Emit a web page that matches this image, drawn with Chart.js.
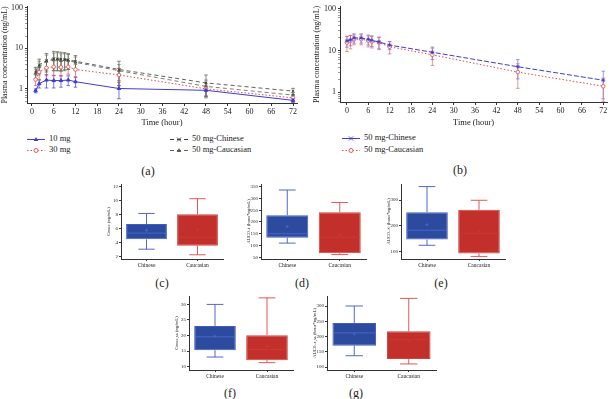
<!DOCTYPE html>
<html>
<head>
<meta charset="utf-8">
<script src="https://cdn.jsdelivr.net/npm/chart.js@4.4.0/dist/chart.umd.min.js"></script>
<style>
  body { margin: 0; background: #fff; width: 612px; height: 399px; position: relative; overflow: hidden; font-family: "Liberation Serif", serif; color: #222; }
  canvas { position: absolute; }
  .lab { position: absolute; font-size: 12px; transform: translate(-50%, -50%); }
  .leg { position: absolute; font-size: 8.5px; line-height: 10px; white-space: nowrap; transform: translateY(-50%); }
  .leg svg { vertical-align: middle; margin-right: 4px; }
</style>
</head>
<body>
<canvas id="chartA" width="302" height="130" style="left:0;top:0"></canvas>
<canvas id="chartB" width="300" height="130" style="left:312px;top:0"></canvas>
<canvas id="boxC"></canvas>
<canvas id="boxD"></canvas>
<canvas id="boxE"></canvas>
<canvas id="boxF"></canvas>
<canvas id="boxG"></canvas>
<div id="legends"></div>
<div class="lab" style="left:148px;top:171px">(a)</div>
<div class="lab" style="left:460px;top:170px">(b)</div>
<div class="lab" style="left:162px;top:283px">(c)</div>
<div class="lab" style="left:302px;top:283px">(d)</div>
<div class="lab" style="left:441px;top:283px">(e)</div>
<div class="lab" style="left:230px;top:393px">(f)</div>
<div class="lab" style="left:356px;top:393px">(g)</div>
<script>
// ---- panel (a): single dose, mean ± SD
const timesA = [1, 2, 4, 6, 8, 10, 12, 24, 48, 72];
const timesA50 = [1, 2, 4, 6, 7, 8, 9, 10, 12, 24, 48, 72];
const mg10 = [0.9, 1.35, 1.65, 1.6, 1.6, 1.65, 1.5, 1.02, 0.92, 0.52];
const mg10Sd = [0.1, 0.3, 0.6, 0.55, 0.5, 0.45, 0.4, 0.45, 0.25, 0.06];
const mg30 = [1.7, 2.6, 3.3, 3.5, 3.4, 3.5, 3.0, 2.2, 1.0, 0.6];
const mg30Sd = [0.5, 0.9, 1.2, 1.4, 1.3, 1.2, 1.0, 1.0, 0.35, 0.12];
const mg50Cn = [2.6, 3.9, 5.0, 5.6, 5.5, 5.4, 5.3, 5.2, 4.8, 3.0, 1.4, 0.88];
const mg50CnSd = [0.8, 1.5, 2.4, 2.8, 2.7, 2.6, 2.5, 2.2, 1.8, 1.8, 0.8, 0.15];
const mg50Ca = [2.4, 3.5, 4.8, 5.2, 5.3, 5.0, 5.2, 5.0, 4.5, 2.8, 1.15, 0.7];
const mg50CaSd = [0.7, 1.3, 2.0, 2.4, 2.5, 2.3, 2.2, 2.0, 1.6, 1.2, 0.5, 0.12];

// ---- panel (b): multiple dose 50 mg
const timesB = [0, 1, 2, 4, 6, 7, 9, 12, 24, 48, 72];
const ssCn = [17, 18, 20, 20, 18.5, 17.5, 16, 13.5, 9.1, 4.1, 1.95];
const ssCnSd = [5, 5, 5, 5, 5, 5, 5, 3, 3, 2, 1.25];
const ssCa = [15.5, 17, 18.7, 18.7, 17.2, 16.5, 15.5, 12.3, 7.9, 3.05, 1.4];
const ssCaSd = [6, 6, 5, 5, 5, 5, 5, 4, 3.5, 1.8, 0.8];

const tickHours = [0, 6, 12, 18, 24, 30, 36, 42, 48, 54, 60, 66, 72];

// ---- box plots: [min, q1, median, q3, max, mean]
const groups = ['Chinese', 'Caucasian'];
const cmaxCn = [3.1, 4.5, 5.4, 6.7, 8.2, 5.8];
const cmaxCa = [2.3, 3.6, 4.8, 8.1, 10.3, 5.9];
const auctCn = [110, 133, 150, 229, 336, 181];
const auctCa = [61, 67, 135, 241, 283, 145];
const aucinfCn = [125, 147, 183, 253, 352, 205];
const aucinfCa = [82, 93, 170, 262, 299, 180];
const cmaxssCn = [13.1, 15.3, 19.6, 23.1, 30, 19.8];
const cmaxssCa = [11.3, 12.1, 15.5, 20.1, 32.1, 16.5];
const aucssCn = [137, 170, 212, 244.6, 300, 208];
const aucssCa = [110, 126, 190, 217, 325, 185];

const serif = 'Liberation Serif';
const pts = (xs, ys) => xs.map((x, i) => ({ x: x, y: ys[i] }));

// error bars drawn from each dataset's sd array
const errorBars = {
  id: 'errorBars',
  beforeDatasetsDraw(chart) {
    const { ctx, scales: { x, y } } = chart;
    chart.data.datasets.forEach(ds => {
      if (!ds.sd) return;
      ctx.save();
      ctx.strokeStyle = ds.errColor || ds.borderColor;
      ctx.lineWidth = 0.7;
      ds.data.forEach((p, j) => {
        const px = x.getPixelForValue(p.x);
        const top = y.getPixelForValue(p.y + ds.sd[j]);
        const bot = y.getPixelForValue(Math.max(p.y - ds.sd[j], y.min));
        ctx.beginPath();
        ctx.moveTo(px, top); ctx.lineTo(px, bot);
        ctx.moveTo(px - 1.8, top); ctx.lineTo(px + 1.8, top);
        if (p.y - ds.sd[j] > y.min) { ctx.moveTo(px - 1.8, bot); ctx.lineTo(px + 1.8, bot); }
        ctx.stroke();
      });
      ctx.restore();
    });
  }
};

function logTicks(min, max) {
  const out = [];
  for (let e = -1; e <= 2; e++) {
    for (let m = 1; m <= 9; m++) {
      const v = m * Math.pow(10, e);
      if (v >= min && v <= max) out.push({ value: v });
    }
  }
  return out;
}

function lineChart(id, datasets, o) {
  return new Chart(document.getElementById(id), {
    type: 'line',
    data: { datasets: datasets },
    options: {
      responsive: false,
      animation: false,
      layout: { padding: { top: o.padTop, right: o.padRight, left: 0, bottom: 0 } },
      plugins: { legend: { display: false }, tooltip: { enabled: false } },
      scales: {
        x: {
          type: 'linear', min: o.xmin, max: o.xmax,
          afterBuildTicks: s => { s.ticks = tickHours.map(v => ({ value: v })); },
          afterFit: s => { s.height = o.xh; },
          grid: { drawOnChartArea: false, tickLength: 3, color: '#333' },
          border: { color: '#333' },
          ticks: { font: { family: serif, size: 8 }, color: '#222', padding: 1, maxRotation: 0, autoSkip: false },
          title: { display: true, text: 'Time (hour)', font: { family: serif, size: 8.5 }, color: '#222', padding: { top: 1, bottom: 2 } }
        },
        y: {
          type: 'logarithmic', min: o.ymin, max: o.ymax,
          afterBuildTicks: s => { s.ticks = logTicks(s.min, s.max); },
          afterFit: s => { s.width = o.yw; },
          grid: { drawOnChartArea: false, tickLength: 2, color: c => ([1, 10, 100].includes(c.tick && c.tick.value) ? '#333' : '#999') },
          border: { color: '#333' },
          ticks: {
            font: { family: serif, size: 8 }, color: '#222', padding: 2, autoSkip: false,
            callback: v => ([1, 10, 100].includes(v) ? String(v) : '')
          },
          title: { display: true, text: 'Plasma concentration (ng/mL)', font: { family: serif, size: 8 }, color: '#222', padding: 0 }
        }
      }
    },
    plugins: [errorBars]
  });
}

const blue = '#3c3cd4', red = '#e04848', dark = '#3a3a3a', darkGreen = '#55634f';

const dsA = [
  { label: '10 mg', data: pts(timesA, mg10), sd: mg10Sd, borderColor: blue, backgroundColor: blue,
    borderWidth: 1, pointStyle: 'triangle', pointRadius: 2 },
  { label: '30 mg', data: pts(timesA, mg30), sd: mg30Sd, borderColor: red, backgroundColor: '#fff',
    borderWidth: 1, borderDash: [1.5, 2], pointStyle: 'circle', pointRadius: 1.8, pointBorderWidth: 0.8 },
  { label: '50 mg-Chinese', data: pts(timesA50, mg50Cn), sd: mg50CnSd, errColor: '#4b5a4b', borderColor: dark, backgroundColor: dark,
    borderWidth: 0.8, borderDash: [4, 3], pointStyle: 'crossRot', pointRadius: 1.8, pointBorderWidth: 0.8 },
  { label: '50 mg-Caucasian', data: pts(timesA50, mg50Ca), sd: mg50CaSd, errColor: '#6a7a62', borderColor: darkGreen, backgroundColor: darkGreen,
    borderWidth: 0.8, borderDash: [4, 3], pointStyle: 'triangle', pointRadius: 1.6 }
];
const dsB = [
  { label: '50 mg-Chinese', data: pts(timesB, ssCn), sd: ssCnSd, errColor: '#7070e0', borderColor: blue, backgroundColor: blue,
    borderWidth: 1, borderDash: [5, 2], pointStyle: 'star', pointRadius: 2, pointBorderWidth: 0.8 },
  { label: '50 mg-Caucasian', data: pts(timesB, ssCa), sd: ssCaSd, errColor: '#e06a6a', borderColor: red, backgroundColor: '#fff',
    borderWidth: 1, borderDash: [1.5, 2], pointStyle: 'circle', pointRadius: 1.8, pointBorderWidth: 0.8 }
];

lineChart('chartA', dsA, { xmin: -1.37, xmax: 73.1, ymin: 0.448, ymax: 105.5, yw: 27, xh: 27, padTop: 2, padRight: 4 });
lineChart('chartB', dsB, { xmin: -1.94, xmax: 73.1, ymin: 0.589, ymax: 111, yw: 28, xh: 28, padTop: 3, padRight: 1 });

// ---- HTML legends built from the datasets
function markerSvg(ds, solid) {
  const dash = (!solid && ds.borderDash) ? ` stroke-dasharray="${ds.borderDash.join(' ')}"` : '';
  let m = '';
  if (ds.pointStyle === 'triangle') m = `<polygon points="9,2.5 11.3,6.5 6.7,6.5" fill="${ds.borderColor}"/>`;
  else if (ds.pointStyle === 'circle') m = `<circle cx="9" cy="5" r="2" fill="#fff" stroke="${ds.borderColor}" stroke-width="0.9"/>`;
  else m = `<path d="M7,3L11,7M11,3L7,7" stroke="${ds.borderColor}" stroke-width="0.9"/>`;
  return `<svg width="18" height="10"><line x1="0" y1="5" x2="18" y2="5" stroke="${ds.borderColor}" stroke-width="1"${dash}/>${m}</svg>`;
}
const legendSpots = [
  [dsA[0], 27, 139, false], [dsA[1], 27, 150, false], [dsA[2], 170, 139, false], [dsA[3], 170, 150, false],
  [dsB[0], 342, 138, true], [dsB[1], 342, 150, false]
];
const legendBox = document.getElementById('legends');
legendSpots.forEach(([ds, x, y, solid]) => {
  const d = document.createElement('div');
  d.className = 'leg';
  d.style.left = x + 'px';
  d.style.top = y + 'px';
  d.innerHTML = markerSvg(ds, solid) + '<span></span>';
  d.querySelector('span').textContent = ds.label;
  legendBox.appendChild(d);
});

// ---- box plots: floating bars for the boxes, whiskers/median/mean through the same scales
const boxExtras = {
  id: 'boxExtras',
  beforeDatasetsDraw(chart) {
    const { ctx, scales: { y } } = chart;
    const ds = chart.data.datasets[0];
    const meta = chart.getDatasetMeta(0);
    ctx.save();
    ctx.lineWidth = 1;
    ds.stats.forEach((s, i) => {
      const bar = meta.data[i];
      const cw = bar.width * 0.2;
      ctx.strokeStyle = ds.whiskerColor[i];
      ctx.beginPath();
      ctx.moveTo(bar.x, y.getPixelForValue(s[4])); ctx.lineTo(bar.x, y.getPixelForValue(s[3]));
      ctx.moveTo(bar.x, y.getPixelForValue(s[0])); ctx.lineTo(bar.x, y.getPixelForValue(s[1]));
      ctx.moveTo(bar.x - cw, y.getPixelForValue(s[4])); ctx.lineTo(bar.x + cw, y.getPixelForValue(s[4]));
      ctx.moveTo(bar.x - cw, y.getPixelForValue(s[0])); ctx.lineTo(bar.x + cw, y.getPixelForValue(s[0]));
      ctx.stroke();
    });
    ctx.restore();
  },
  afterDatasetsDraw(chart) {
    const { ctx, scales: { y } } = chart;
    const ds = chart.data.datasets[0];
    const meta = chart.getDatasetMeta(0);
    ctx.save();
    ctx.lineWidth = 0.8;
    ds.stats.forEach((s, i) => {
      const bar = meta.data[i];
      const half = bar.width / 2;
      ctx.strokeStyle = ds.medianColor[i];
      ctx.beginPath();
      const my = y.getPixelForValue(s[2]);
      ctx.moveTo(bar.x - half + 1, my); ctx.lineTo(bar.x + half - 1, my);
      const ay = y.getPixelForValue(s[5]);
      ctx.moveTo(bar.x - 1.5, ay); ctx.lineTo(bar.x + 1.5, ay);
      ctx.moveTo(bar.x, ay - 1.5); ctx.lineTo(bar.x, ay + 1.5);
      ctx.stroke();
    });
    ctx.restore();
  }
};

function boxChart(id, cn, ca, o) {
  const el = document.getElementById(id);
  const padTop = 4, padRight = 3, xh = 10;
  el.width = Math.round(o.areaR - o.areaL + o.yw + padRight);
  el.height = Math.round(o.areaB - o.areaT + padTop + xh);
  el.style.left = (o.areaL - o.yw) + 'px';
  el.style.top = (o.areaT - padTop) + 'px';
  return new Chart(el, {
    type: 'bar',
    data: {
      labels: groups,
      datasets: [{
        data: [[cn[1], cn[3]], [ca[1], ca[3]]],
        stats: [cn, ca],
        backgroundColor: ['#2c4b9e', '#c3302b'],
        borderColor: ['#3d5cc4', '#d2413a'],
        whiskerColor: ['#5566cc', '#e0575a'],
        medianColor: ['#4d6ad2', '#cf3a34'],
        borderWidth: 1,
        borderSkipped: false,
        categoryPercentage: 1,
        barPercentage: 0.8
      }]
    },
    options: {
      responsive: false,
      animation: false,
      layout: { padding: { top: padTop, right: padRight, left: 0, bottom: 0 } },
      plugins: { legend: { display: false }, tooltip: { enabled: false } },
      scales: {
        x: {
          afterFit: s => { s.height = xh; },
          grid: { display: true, drawOnChartArea: false, offset: false, tickLength: 2, color: '#333' },
          border: { color: '#333' },
          ticks: { font: { family: serif, size: 5.5 }, color: '#222', padding: 1, maxRotation: 0 }
        },
        y: {
          min: o.ymin, max: o.ymax,
          afterBuildTicks: s => {
            const t = [];
            for (let v = Math.ceil(o.ymin / o.step) * o.step; v <= o.ymax; v += o.step) t.push({ value: v });
            s.ticks = t;
          },
          afterFit: s => { s.width = o.yw; },
          grid: { drawOnChartArea: false, tickLength: 2, color: '#333' },
          border: { color: '#333' },
          ticks: { font: { family: serif, size: 5 }, color: '#222', padding: 1 },
          title: { display: true, text: o.title, font: { family: serif, size: 4.8 }, color: '#222', padding: 0 }
        }
      }
    },
    plugins: [boxExtras]
  });
}

boxChart('boxC', cmaxCn, cmaxCa, { areaL: 121, areaR: 223, areaT: 184, areaB: 258.5, yw: 15, ymin: 1.7, ymax: 12.4, step: 2, title: 'Cmax (ng/mL)' });
boxChart('boxD', auctCn, auctCa, { areaL: 261, areaR: 366, areaT: 184, areaB: 258.5, yw: 15, ymin: 42.3, ymax: 361.6, step: 50, title: 'AUC0–t (hour*ng/mL)' });
boxChart('boxE', aucinfCn, aucinfCa, { areaL: 401, areaR: 505, areaT: 184, areaB: 258.5, yw: 15, ymin: 72, ymax: 362, step: 100, title: 'AUC0–∞ (hour*ng/mL)' });
boxChart('boxF', cmaxssCn, cmaxssCa, { areaL: 189, areaR: 293, areaT: 296, areaB: 370, yw: 15, ymin: 8.94, ymax: 32.7, step: 5, title: 'Cmax,ss (ng/mL)' });
boxChart('boxG', aucssCn, aucssCa, { areaL: 327, areaR: 436, areaT: 296, areaB: 370, yw: 15, ymin: 90.2, ymax: 332.8, step: 50, title: 'AUC0–τ,ss (hour*ng/mL)' });
</script>
</body>
</html>
